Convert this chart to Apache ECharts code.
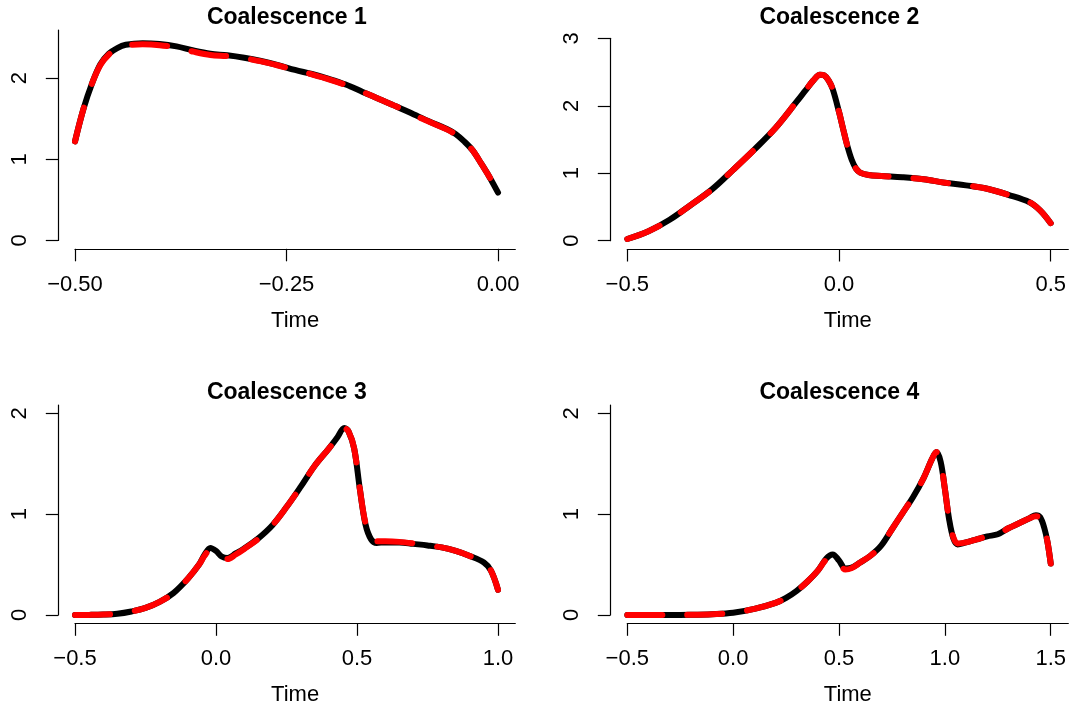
<!DOCTYPE html>
<html>
<head>
<meta charset="utf-8">
<script src="https://cdn.jsdelivr.net/npm/echarts@6/dist/echarts.min.js"></script>
<style>html,body{margin:0;padding:0;background:#fff}#c{width:1073px;height:710px}</style>
</head>
<body>
<div id="c"></div>
<script>
// ---------- DATA ----------
const titles = ['Coalescence 1', 'Coalescence 2', 'Coalescence 3', 'Coalescence 4'];
const xName = 'Time';

const x1 = [-0.5, -0.49, -0.48, -0.47, -0.46, -0.45, -0.44, -0.42, -0.40, -0.38, -0.36, -0.34, -0.32, -0.30, -0.28, -0.26, -0.24, -0.22, -0.20, -0.18, -0.16, -0.14, -0.12, -0.10, -0.08, -0.06, -0.05, -0.04, -0.03, -0.02, -0.01, 0.0];
const y1Black = [1.22, 1.62, 1.93, 2.17, 2.30, 2.37, 2.41, 2.43, 2.42, 2.39, 2.34, 2.30, 2.28, 2.25, 2.21, 2.16, 2.10, 2.05, 1.99, 1.92, 1.83, 1.74, 1.65, 1.555, 1.46, 1.37, 1.31, 1.22, 1.11, 0.95, 0.78, 0.59];
const y1Red = [1.22, 1.62, 1.93, 2.16, 2.29, 2.36, 2.40, 2.415, 2.405, 2.375, 2.325, 2.285, 2.27, 2.245, 2.205, 2.155, 2.10, 2.045, 1.985, 1.915, 1.83, 1.74, 1.65, 1.55, 1.455, 1.365, 1.305, 1.22, 1.11, 0.95, 0.78, 0.60];

const x2 = [-0.5, -0.45, -0.4, -0.35, -0.3, -0.25, -0.2, -0.15, -0.1, -0.08, -0.06, -0.045, -0.035, -0.025, -0.015, 0.0, 0.01, 0.02, 0.03, 0.04, 0.05, 0.07, 0.1, 0.15, 0.2, 0.25, 0.3, 0.35, 0.4, 0.45, 0.475, 0.5];
const y2Black = [0.025, 0.14, 0.31, 0.53, 0.76, 1.05, 1.35, 1.67, 2.06, 2.22, 2.38, 2.46, 2.45, 2.38, 2.25, 1.91, 1.65, 1.40, 1.20, 1.07, 1.01, 0.975, 0.96, 0.94, 0.91, 0.86, 0.82, 0.77, 0.68, 0.57, 0.45, 0.26];
const y2Red = [0.025, 0.14, 0.31, 0.53, 0.76, 1.05, 1.35, 1.67, 2.06, 2.22, 2.38, 2.46, 2.45, 2.38, 2.25, 1.91, 1.65, 1.40, 1.20, 1.07, 1.01, 0.975, 0.96, 0.94, 0.91, 0.86, 0.82, 0.77, 0.68, 0.57, 0.45, 0.26];

const x3 = [-0.5, -0.45, -0.4, -0.35, -0.3, -0.25, -0.2, -0.15, -0.1, -0.06, -0.04, -0.02, 0.0, 0.02, 0.04, 0.07, 0.1, 0.15, 0.2, 0.25, 0.3, 0.35, 0.4, 0.43, 0.455, 0.47, 0.49, 0.51, 0.53, 0.55, 0.57, 0.6, 0.65, 0.7, 0.75, 0.8, 0.85, 0.9, 0.95, 0.975, 1.0];
const y3Black = [0.0, 0.001, 0.004, 0.012, 0.035, 0.07, 0.13, 0.22, 0.36, 0.50, 0.60, 0.665, 0.635, 0.58, 0.565, 0.61, 0.66, 0.76, 0.89, 1.07, 1.27, 1.48, 1.65, 1.76, 1.855, 1.82, 1.65, 1.25, 0.90, 0.75, 0.715, 0.72, 0.72, 0.705, 0.69, 0.67, 0.635, 0.585, 0.52, 0.44, 0.25];
const y3Red = [0.0, 0.001, 0.004, 0.012, 0.035, 0.07, 0.13, 0.22, 0.36, 0.50, 0.59, 0.645, 0.62, 0.57, 0.555, 0.60, 0.655, 0.755, 0.89, 1.07, 1.27, 1.48, 1.65, 1.76, 1.85, 1.82, 1.65, 1.25, 0.91, 0.76, 0.73, 0.73, 0.725, 0.71, 0.69, 0.67, 0.635, 0.585, 0.52, 0.44, 0.25];

const x4 = [-0.5, -0.3, -0.2, -0.1, 0.0, 0.1, 0.2, 0.25, 0.3, 0.35, 0.4, 0.44, 0.47, 0.5, 0.53, 0.56, 0.6, 0.65, 0.7, 0.75, 0.8, 0.85, 0.9, 0.94, 0.96, 0.98, 1.0, 1.02, 1.04, 1.06, 1.1, 1.15, 1.2, 1.25, 1.3, 1.35, 1.4, 1.43, 1.45, 1.47, 1.485, 1.5];
const y4Black = [0.0, 0.0, 0.002, 0.008, 0.022, 0.06, 0.12, 0.17, 0.24, 0.33, 0.44, 0.56, 0.60, 0.54, 0.46, 0.47, 0.52, 0.59, 0.69, 0.85, 1.01, 1.17, 1.36, 1.55, 1.615, 1.52, 1.25, 0.95, 0.76, 0.70, 0.72, 0.75, 0.78, 0.80, 0.86, 0.91, 0.96, 0.99, 0.97, 0.86, 0.72, 0.51];
const y4Red = [0.0, 0.0, 0.002, 0.008, 0.022, 0.06, 0.12, 0.17, 0.24, 0.33, 0.44, 0.55, 0.57, 0.52, 0.45, 0.465, 0.52, 0.59, 0.69, 0.85, 1.01, 1.17, 1.36, 1.55, 1.615, 1.52, 1.25, 0.95, 0.77, 0.71, 0.72, 0.75, 0.78, 0.80, 0.86, 0.91, 0.96, 0.98, 0.96, 0.86, 0.72, 0.51];

const xTicks1 = [-0.5, -0.25, 0.0];
const xTicks2 = [-0.5, 0.0, 0.5];
const xTicks3 = [-0.5, 0.0, 0.5, 1.0];
const xTicks4 = [-0.5, 0.0, 0.5, 1.0, 1.5];
const yTicks1 = [0, 1, 2];
const yTicks2 = [0, 1, 2, 3];
const yTicks3 = [0, 1, 2];
const yTicks4 = [0, 1, 2];
const xDecimals = [2, 1, 1, 1];

// ---------- LAYOUT / STYLE ----------
const FONT = '"Liberation Sans", Arial, Helvetica, sans-serif';
const panels = [
  {left: 75,    top: 30,   width: 440.3, height: 210.5, xMin: -0.5, xMax: 0.0204, yMax: 2.592, titleX: 286.8, titleTop: 6,   yOff: 16.7},
  {left: 627.3, top: 38.3, width: 441,   height: 202.4, xMin: -0.5, xMax: 0.5416, yMax: 3,     titleX: 839.3, titleTop: 6,   yOff: 17},
  {left: 75,    top: 405,  width: 440.3, height: 210,   xMin: -0.5, xMax: 1.0613, yMax: 2.082, titleX: 286.8, titleTop: 381, yOff: 16.7},
  {left: 627.3, top: 405,  width: 441,   height: 210,   xMin: -0.5, xMax: 1.583,  yMax: 2.082, titleX: 839.3, titleTop: 381, yOff: 17}
];
const xs = [x1, x2, x3, x4];
const blacks = [y1Black, y2Black, y3Black, y4Black];
const reds = [y1Red, y2Red, y3Red, y4Red];
const xTicks = [xTicks1, xTicks2, xTicks3, xTicks4];
const yTicks = [yTicks1, yTicks2, yTicks3, yTicks4];

function fmtX(dec) {
  return function (v) {
    const s = Math.abs(v).toFixed(dec);
    return (v < -1e-9 ? '\u2212' : '') + s;
  };
}
function pairs(xa, ya) { return xa.map((x, i) => [x, ya[i]]); }

const grid = [], xAxis = [], yAxis = [], series = [], title = [];
panels.forEach((p, i) => {
  // the zero reference line reaches left to the (offset) y axis line
  const zeroLeft = p.xMin - p.yOff * (p.xMax - p.xMin) / p.width;
  grid.push({left: p.left, top: p.top, width: p.width, height: p.height, containLabel: false});
  title.push({
    text: titles[i], left: p.titleX, top: p.titleTop, textAlign: 'center', textVerticalAlign: 'top', padding: 0,
    textStyle: {fontFamily: FONT, fontSize: 23, fontWeight: 'bold', color: '#000'}
  });
  xAxis.push({
    type: 'value', gridIndex: i, min: p.xMin, max: p.xMax, offset: 8.3,
    name: xName, nameLocation: 'middle', nameGap: 61,
    nameTextStyle: {fontFamily: FONT, fontSize: 22, color: '#000'},
    axisLine: {show: true, onZero: false, lineStyle: {color: '#000', width: 1.2}},
    axisTick: {show: true, length: 12.5, customValues: xTicks[i], lineStyle: {color: '#000', width: 1.2}},
    axisLabel: {show: true, customValues: xTicks[i], margin: 25, formatter: fmtX(xDecimals[i]),
      fontFamily: FONT, fontSize: 22, color: '#000', hideOverlap: false, showMinLabel: true, showMaxLabel: true},
    splitLine: {show: false}
  });
  yAxis.push({
    type: 'value', gridIndex: i, min: 0, max: p.yMax, offset: p.yOff,
    axisLine: {show: true, onZero: false, lineStyle: {color: '#000', width: 1.2}},
    axisTick: {show: true, length: 12.5, customValues: yTicks[i], lineStyle: {color: '#000', width: 1.2}},
    axisLabel: {show: true, customValues: yTicks[i], rotate: 90, margin: 27,
      fontFamily: FONT, fontSize: 22, color: '#000', hideOverlap: false, showMinLabel: true, showMaxLabel: true},
    splitLine: {show: false}
  });
  series.push({
    type: 'line', xAxisIndex: i, yAxisIndex: i, data: pairs(xs[i], blacks[i]),
    showSymbol: false, symbol: 'none', smooth: 0.35, clip: false, silent: true, z: 2,
    lineStyle: {color: '#000', width: 6, cap: 'round', join: 'round'},
    markLine: {
      silent: true, symbol: 'none', label: {show: false}, z: 1, animation: false,
      lineStyle: {color: '#c4c4c4', width: 1.2, type: 'solid'},
      data: [[{coord: [zeroLeft, 0]}, {coord: [p.xMax, 0]}]]
    }
  });
  series.push({
    type: 'line', xAxisIndex: i, yAxisIndex: i, data: pairs(xs[i], reds[i]),
    showSymbol: false, symbol: 'none', smooth: 0.35, clip: false, silent: true, z: 3,
    lineStyle: {color: '#ff0000', width: 6, type: [35, 25], cap: 'round', join: 'round'}
  });
});

const chart = echarts.init(document.getElementById('c'), null, {renderer: 'canvas'});
chart.setOption({
  animation: false,
  backgroundColor: '#fff',
  title, grid, xAxis, yAxis, series
});
</script>
</body>
</html>
